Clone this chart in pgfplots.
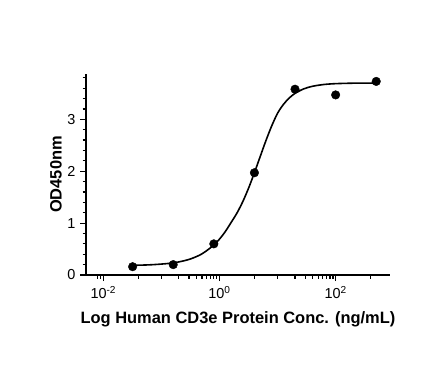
\documentclass[border=0pt]{standalone}
\usepackage{pgfplots}
\pgfplotsset{compat=1.18}
\usepackage{fontspec}
\setmainfont{Liberation Sans}
\begin{document}
\begin{tikzpicture}
\begin{axis}[
  at={(0,0)}, anchor=south west,
  scale only axis,
  width=304bp, height=201bp,
  xmode=log,
  xmin=0.00504, xmax=863,
  ymin=0, ymax=3.873,
  axis x line*=bottom, axis y line*=left,
  axis line style={-, line width=1.3bp, black},
  tick align=outside,
  major tick length=6bp, minor tick length=3.5bp,
  every tick/.style={black, line width=1.2bp},
  xtick={0.01,1,100},
  xticklabels={10\textsuperscript{-2},10\textsuperscript{0},10\textsuperscript{2}},
  minor xtick={0.008,0.009,0.04,0.1,0.2,0.3,0.4,0.5,0.6,0.7,0.8,0.9,4,10,20,30,40,50,60,70,80,90,400},
  ytick={0,1,2,3},
  minor ytick={0.2,0.4,0.6,0.8,1.2,1.4,1.6,1.8,2.2,2.4,2.6,2.8,3.2,3.4,3.6,3.8},
  /pgf/number format/assume math mode=true,
  tick label style={font=\fontsize{14.5}{14.5}\selectfont},
  xticklabel style={yshift=-2bp},
  yticklabel style={xshift=-1bp},
  xlabel={Log Human CD3e Protein Conc. (ng/mL)},
  ylabel={OD450nm},
  label style={font=\bfseries\fontsize{16.5}{16.5}\selectfont},
  xlabel style={at={(axis description cs:0.5,-0.239)}, anchor=base},
  ylabel style={at={(axis description cs:-0.099,0.5)}, anchor=center},
  clip=false,
]
\addplot[black, line width=1.6bp, smooth] coordinates {
(0.032,0.187) (0.0631,0.196) (0.1259,0.220) (0.1995,0.252) (0.3162,0.309)
(0.5012,0.408) (0.7943,0.574) (1,0.691) (1.2589,0.836) (1.5849,1.011)
(1.9953,1.191) (2.5119,1.410) (3.1623,1.670) (3.9811,1.965) (5.0119,2.278)
(6.3096,2.589) (7.9433,2.874) (10,3.116) (12.589,3.285) (15.849,3.409)
(19.953,3.499) (28.184,3.586) (39.811,3.636) (63.096,3.671) (100,3.687)
(199.53,3.696) (500,3.699)
};
\addplot[only marks, mark=*, mark size=4.3bp, black] coordinates {
(0.032,0.16) (0.16,0.20) (0.8,0.60) (4,1.97) (20,3.58) (100,3.47) (500,3.73)
};
\end{axis}
\path (-86bp,-110bp) rectangle (360bp,275bp);
\end{tikzpicture}
\end{document}
